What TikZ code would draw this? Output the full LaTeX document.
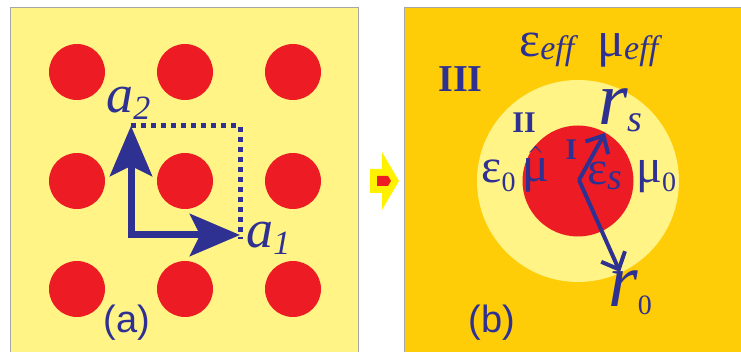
\documentclass[tikz,border=0pt]{standalone}
\usepackage{fontspec}
\setmainfont{Liberation Serif}
\newfontfamily\panelsans{Liberation Sans}
\usepackage{tikz}
\usetikzlibrary{arrows.meta}
\definecolor{cellyellow}{RGB}{255,244,133}
\definecolor{hostorange}{RGB}{255,204,8}
\definecolor{rodred}{RGB}{237,28,36}
\definecolor{vecblue}{RGB}{46,49,146}
\definecolor{flowyellow}{RGB}{255,242,0}
\newcommand{\setfs}[1]{\fontsize{#1}{#1}\selectfont}

\begin{document}
\begin{tikzpicture}[x=0.5pt,y=-0.5pt,
    lbl/.style={text=vecblue,inner sep=0pt,anchor=base west},
    latvec/.style={vecblue,line width=3.5pt,-{Stealth[length=25pt,width=21pt,inset=5pt]}},
    radvec/.style={vecblue,line width=2pt,-{Straight Barb[length=7pt,width=13pt]}}]
    \useasboundingbox (0,0) rectangle (741,352);
    % (a) square lattice
    \fill[cellyellow] (10,7) rectangle (358,352);
    \draw[gray!70,line width=0.4pt] (10,352) -- (10,7) -- (358,7) -- (358,352);
    \foreach \x in {77,185,293}
        \foreach \y in {72,181,289}
            \fill[rodred] (\x,\y) circle (28);
    \coordinate (origin) at (131,235);
    \coordinate (a1end) at (240,235);
    \coordinate (a2end) at (131,126);
    \draw[vecblue,line width=2.5pt,dash pattern=on 2.5pt off 2.5pt] (a2end) -| ([yshift=-2]a1end);
    \draw[latvec] (origin) -- (a1end);
    \draw[latvec] ([yshift=-1.75pt]origin) -- (a2end);
    \node[lbl] (a2lbl) at (106,113) {\setfs{27}\itshape a\raisebox{-3.5pt}{\setfs{17}2}};
    \node[lbl] (a1lbl) at (246,248) {\setfs{27}\itshape a\raisebox{-3.5pt}{\setfs{17}1}};
    \node[lbl] (alabel) at (103,333) {\panelsans\setfs{19}(a)};
    % arrow between panels
    \fill[flowyellow] (370,169) -- (382,169) -- (382,152) -- (399,181) -- (382,210) -- (382,193) -- (370,193) -- cycle;
    \fill[rodred] (377,176) -- (388,176) -- (391,181) -- (388,186) -- (377,186) -- cycle;
    % (b) coated cylinder in effective medium
    \fill[hostorange] (404,7) rectangle (741,352);
    \draw[gray!70,line width=0.4pt] (404,352) -- (404,7) -- (741,7);
    \fill[cellyellow] (578,181) circle (101);
    \fill[rodred] (578,181) circle (55.5);
    \coordinate (core) at (579,180);
    \coordinate (rsend) at (605,133);
    \coordinate (r0end) at (620,272);
    \draw[radvec] (core) -- (rsend);
    \draw[radvec] (core) -- (r0end);
    \node[lbl] (epseff) at (519,57) {\setfs{25}ε\raisebox{-1.5pt}{\setfs{17}\itshape eff}};
    \node[lbl] (mueff) at (597,57) {\setfs{25}μ\raisebox{-1.5pt}{\setfs{17}\itshape eff}};
    \node[lbl] (regIII) at (438,92) {\setfs{19}\bfseries III};
    \node[lbl] (regII) at (512,133) {\setfs{15}\bfseries II};
    \node[lbl] (regI) at (565,160) {\setfs{15}\bfseries I};
    \node[lbl] (muhat) at (522,182) {\setfs{25}\(\hat{\mbox{μ}}\)};
    \node[lbl] (epss) at (587,185) {\setfs{24}ε\raisebox{-2.5pt}{\setfs{19}\itshape s}};
    \node[lbl] (epsz) at (481,183) {\setfs{24}ε\raisebox{-4.5pt}{\setfs{14}0}};
    \node[lbl] (muz) at (636,183) {\setfs{24}μ\raisebox{-4.5pt}{\setfs{14}0}};
    \node[lbl] (rslbl) at (598,125) {\setfs{38}\itshape r\raisebox{-3.5pt}{\setfs{19}s}};
    \node[lbl] (r0lbl) at (608,307) {\setfs{38}\itshape r\raisebox{-4pt}{\setfs{14}\upshape 0}};
    \node[lbl] (blabel) at (468,333) {\panelsans\setfs{19}(b)};
\end{tikzpicture}
\end{document}
